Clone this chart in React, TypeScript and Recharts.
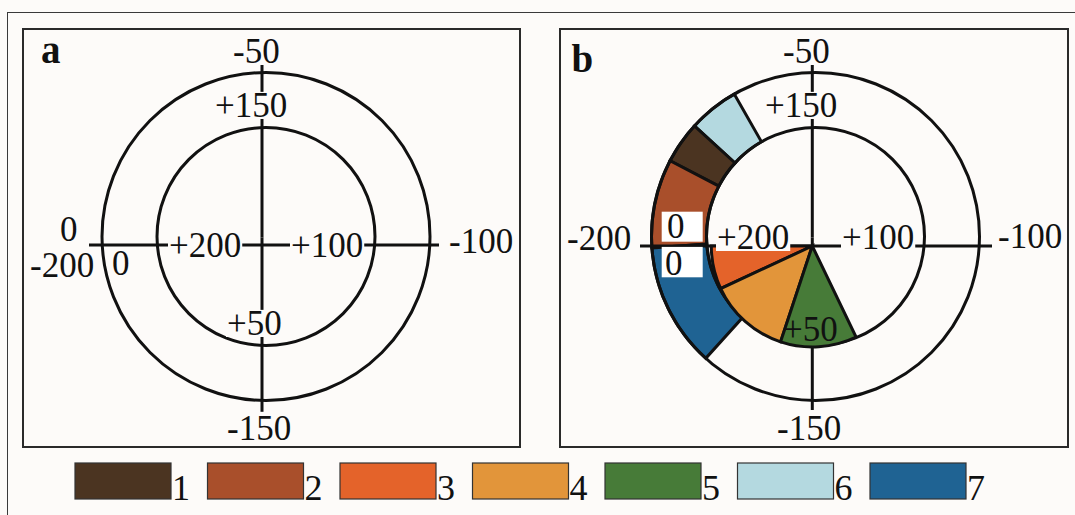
import React from "react"
import { PieChart, Pie, Cell, PolarGrid } from "recharts"

// legend classes and their colours
const classes = ["1", "2", "3", "4", "5", "6", "7"]
const classColors = ["#4b3421", "#a94f2b", "#e4632a", "#e2953a", "#477b38", "#b4d9e0", "#1f6393"]

// outer circle scale, clockwise from the left
const outerTicks = ["0", "-50", "-100", "-150", "-200"]
// inner circle scale, clockwise from the left
const innerTicks = ["+200", "+150", "+100", "+50", "0"]

// panel b: ring sectors, counter-clockwise (degrees)
const ringStartDeg = 119.7
const ringClasses = ["6", "1", "2", "7"]
const ringSpanDeg = [17.9, 14.9, 31.5, 44]

// panel b: inner wedges, counter-clockwise (degrees)
const wedgeStartDeg = 180
const wedgeClasses = ["3", "4", "5"]
const wedgeSpanDeg = [24.9, 46.8, 44]

const W = 1075
const H = 515
const INK = "#111111"
const BG = "#fdfbf9"
const SERIF = "'Liberation Serif', 'Times New Roman', serif"
const R_IN = 109
const R_OUT = 164
const LINE_W = 3
const TICK_SIZE = 35
const NO_MARGIN = { top: 0, right: 0, bottom: 0, left: 0 }

const sum = (a: number[]) => a.reduce((s, v) => s + v, 0)
const colorOf = (c: string) => classColors[classes.indexOf(c)]

const ringData = ringClasses.map((c, i) => ({ name: c, value: ringSpanDeg[i] }))
const wedgeData = wedgeClasses.map((c, i) => ({ name: c, value: wedgeSpanDeg[i] }))

type Pt = [number, number]
type Panel = {
  id: string
  frame: { x: number; y: number; w: number; h: number }
  letter: { x: number; y: number }
  circle: { x: number; y: number }
  hLine: { x: number; y: number; r: number }
  vLine: { x: number; y: number; r: number }
  cross: { x: number; y: number }
  outerPos: Pt[]
  innerPos: Pt[]
  noHalo: string[]
  boxes: { x: number; y: number; w: number; h: number }[]
  sectors: boolean
}

const panels: Panel[] = [
  {
    id: "a",
    frame: { x: 22, y: 28, w: 499, h: 420 },
    letter: { x: 41, y: 63 },
    circle: { x: 266, y: 236.5 },
    hLine: { x: 264, y: 245, r: 175 },
    vLine: { x: 262, y: 237.4, r: 174.4 },
    cross: { x: 262, y: 245 },
    outerPos: [[-202, -4], [-29, -182], [187, 8], [-35, 195], [-232, 32]],
    innerPos: [[-93, 12], [-47, -128], [29, 12], [-35, 90], [-150, 30]],
    noHalo: [],
    boxes: [],
    sectors: false,
  },
  {
    id: "b",
    frame: { x: 559, y: 28, w: 510, h: 420 },
    letter: { x: 571.5, y: 71.5 },
    circle: { x: 815.5, y: 236.5 },
    hLine: { x: 816, y: 246, r: 176 },
    vLine: { x: 812.3, y: 237.5, r: 172.5 },
    cross: { x: 812.3, y: 246 },
    outerPos: [[-145.3, -8], [-29.3, -183], [185.7, 2], [-35.3, 194], [-245.3, 4]],
    innerPos: [[-95.3, 3], [-47.3, -129], [29.7, 3], [-29.3, 95], [-147.3, 29]],
    noHalo: ["inner-3", "outer-0", "inner-4"],
    boxes: [
      { x: -150.6, y: -34.3, w: 41, h: 30 },
      { x: -150.6, y: 0.9, w: 41, h: 30.4 },
    ],
    sectors: true,
  },
]

function textWidth(s: string, size: number) {
  let w = 0
  for (const ch of s) w += ch === "+" ? 0.564 : ch === "-" ? 0.333 : 0.5
  return w * size
}

const layer: React.CSSProperties = { position: "absolute", left: 0, top: 0 }

function Grid({ cx, cy, r, angles, radii }: { cx: number; cy: number; r: number; angles: number[]; radii: number[] }) {
  return (
    <PieChart width={W} height={H} cx={cx} cy={cy} innerRadius={0} outerRadius={r} margin={NO_MARGIN} style={layer}>
      <PolarGrid
        gridType="circle"
        polarAngles={angles}
        polarRadius={radii}
        radialLines={angles.length > 0}
        stroke={INK}
        strokeWidth={LINE_W}
        strokeOpacity={1}
        fill="none"
      />
    </PieChart>
  )
}

function PanelCharts({ p }: { p: Panel }) {
  return (
    <>
      {p.sectors && (
        <PieChart width={W} height={H} margin={NO_MARGIN} style={layer}>
          <Pie
            data={ringData}
            dataKey="value"
            nameKey="name"
            cx={p.circle.x}
            cy={p.circle.y}
            innerRadius={R_IN}
            outerRadius={R_OUT}
            startAngle={ringStartDeg}
            endAngle={ringStartDeg + sum(ringSpanDeg)}
            stroke={INK}
            strokeWidth={LINE_W}
            label={false}
            labelLine={false}
            isAnimationActive={false}
          >
            {ringData.map((d) => (
              <Cell key={d.name} fill={colorOf(d.name)} />
            ))}
          </Pie>
        </PieChart>
      )}
      <Grid cx={p.circle.x} cy={p.circle.y} r={R_OUT} angles={[]} radii={[R_IN, R_OUT]} />
      <Grid cx={p.hLine.x} cy={p.hLine.y} r={p.hLine.r} angles={[0, 180]} radii={[]} />
      <Grid cx={p.vLine.x} cy={p.vLine.y} r={p.vLine.r} angles={[90, 270]} radii={[]} />
      {p.sectors && (
        <PieChart width={W} height={H} margin={NO_MARGIN} style={layer}>
          <Pie
            data={wedgeData}
            dataKey="value"
            nameKey="name"
            cx={p.cross.x}
            cy={p.cross.y}
            innerRadius={0}
            outerRadius={101}
            startAngle={wedgeStartDeg}
            endAngle={wedgeStartDeg + sum(wedgeSpanDeg)}
            stroke={INK}
            strokeWidth={LINE_W}
            label={false}
            labelLine={false}
            isAnimationActive={false}
          >
            {wedgeData.map((d) => (
              <Cell key={d.name} fill={colorOf(d.name)} />
            ))}
          </Pie>
        </PieChart>
      )}
    </>
  )
}

function TickLabel({ text, x, y, halo }: { text: string; x: number; y: number; halo: boolean }) {
  const w = textWidth(text, TICK_SIZE)
  const top = y - 0.69 * TICK_SIZE
  return (
    <g>
      {halo && <rect x={x - 1} y={top - 1} width={w + 2} height={0.69 * TICK_SIZE + 3} fill={BG} />}
      <text x={x} y={y} fontFamily={SERIF} fontSize={TICK_SIZE} fill={INK}>
        {text}
      </text>
    </g>
  )
}

function Overlay() {
  return (
    <svg width={W} height={H} style={layer}>
      {panels.map((p) => (
        <g key={p.id}>
          {p.boxes.map((b, i) => (
            <rect key={i} x={p.cross.x + b.x} y={p.cross.y + b.y} width={b.w} height={b.h} fill="#ffffff" />
          ))}
          {outerTicks.map((t, i) => (
            <TickLabel
              key={"o" + i}
              text={t}
              x={p.cross.x + p.outerPos[i][0]}
              y={p.cross.y + p.outerPos[i][1]}
              halo={!p.noHalo.includes("outer-" + i)}
            />
          ))}
          {innerTicks.map((t, i) => (
            <TickLabel
              key={"i" + i}
              text={t}
              x={p.cross.x + p.innerPos[i][0]}
              y={p.cross.y + p.innerPos[i][1]}
              halo={!p.noHalo.includes("inner-" + i)}
            />
          ))}
          <text x={p.letter.x} y={p.letter.y} fontFamily={SERIF} fontWeight="bold" fontSize={39} fill={INK}>
            {p.id}
          </text>
        </g>
      ))}
      {classes.map((c, i) => {
        const x = 75 + i * 132.5
        return (
          <g key={c}>
            <rect x={x} y={463} width={96} height={36} fill={classColors[i]} stroke="#333" strokeWidth={1.2} />
            <text x={x + 97} y={500} fontFamily={SERIF} fontSize={36} fill={INK}>
              {c}
            </text>
          </g>
        )
      })}
    </svg>
  )
}

export default function App() {
  return (
    <div style={{ position: "fixed", left: 0, top: 0, width: W, height: H, overflow: "hidden", background: BG }}>
      <div
        style={{
          position: "absolute",
          left: 7,
          top: 12,
          width: W + 50,
          height: H + 50,
          borderLeft: "1.5px solid #3a3a3a",
          borderTop: "1.5px solid #3a3a3a",
        }}
      />
      {panels.map((p) => (
        <div
          key={p.id}
          style={{
            position: "absolute",
            left: p.frame.x,
            top: p.frame.y,
            width: p.frame.w,
            height: p.frame.h,
            boxSizing: "border-box",
            border: "2px solid #2a2a2a",
          }}
        />
      ))}
      {panels.map((p) => (
        <PanelCharts key={p.id} p={p} />
      ))}
      <Overlay />
    </div>
  )
}
